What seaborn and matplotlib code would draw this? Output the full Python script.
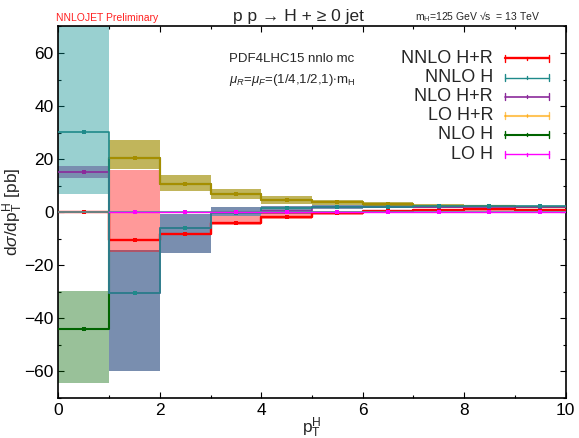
import numpy as np
import pandas as pd
import matplotlib
matplotlib.use("Agg")
import matplotlib.pyplot as plt
import seaborn as sns

# ---- binned pT(H) distributions, dsigma/dpT [pb], bins of 1 GeV ----
bin_edges = [0, 1, 2, 3, 4, 5, 6, 7, 8, 9, 10]
nan = np.nan

nnlo_hr = [0.0, -10.3, -8.3, -4.0, -1.6, -0.2, 0.3, 0.9, 1.1, 0.9]
nnlo_hr_lo = [0.0, -15.0, -8.6, -4.8, -2.6, -0.9, -0.3, 0.4, 0.6, 0.5]
nnlo_hr_hi = [0.0, 16.0, -8.0, -1.3, -0.4, 0.4, 0.8, 1.3, 1.5, 1.3]

nnlo_h = [30.2, -30.4, -5.8, -0.1, 1.6, 2.1, 2.1, 2.2, 2.2, 2.2]
nnlo_h_lo = [7.0, -60.0, -15.2, -1.5, -0.5, 1.2, 1.5, 1.7, 1.8, 1.8]
nnlo_h_hi = [95.0, -14.4, -0.6, 2.1, 2.4, 2.7, 2.6, 2.6, 2.5, 2.5]

nlo_hr = [15.0, -30.6, -6.0, 0.0, 0.3, 1.8, 1.9, 2.0, 2.0, 2.0]
nlo_hr_lo = [13.0, -60.0, -15.2, -1.5, -0.5, 1.2, 1.5, 1.7, 1.8, 1.8]
nlo_hr_hi = [17.3, -14.4, -0.6, 2.1, 2.4, 2.7, 2.6, 2.6, 2.5, 2.5]

lo_hr = [nan, 20.5, 10.6, 6.7, 4.8, 3.7, 3.1, 2.5, 2.3, 2.1]
lo_hr_lo = [nan, 16.3, 8.0, 5.0, 3.2, 2.8, 2.4, 2.1, 1.9, 1.8]
lo_hr_hi = [nan, 27.1, 14.0, 8.6, 6.1, 4.5, 3.7, 3.0, 2.7, 2.5]

nlo_h = [-44.1, 20.5, 10.6, 6.7, 4.8, 3.7, 3.1, 2.5, 2.3, 2.1]
nlo_h_lo = [-64.4, 16.3, 8.0, 5.0, 3.2, 2.8, 2.4, 2.1, 1.9, 1.8]
nlo_h_hi = [-29.6, 27.1, 14.0, 8.6, 6.1, 4.5, 3.7, 3.0, 2.7, 2.5]

lo_h = [nan, 0.0, 0.0, 0.0, 0.0, 0.0, 0.0, 0.0, 0.0, 0.0]

labels = ["NNLO H+R", "NNLO H", "NLO H+R", "LO H+R", "NLO H", "LO H"]

sns.set_theme(style="ticks")
plt.rcParams["font.family"] = ["Liberation Sans", "DejaVu Sans"]
plt.rcParams["mathtext.fontset"] = "custom"
plt.rcParams["mathtext.rm"] = "Liberation Sans"
plt.rcParams["mathtext.it"] = "Liberation Sans:italic"

fig = plt.figure(figsize=(5.79, 4.38), dpi=100)
ax = fig.add_axes([0.101, 0.0913, 0.8757, 0.8482])

edges = np.array(bin_edges, dtype=float)
centers = 0.5 * (edges[:-1] + edges[1:])


def ext(v):
    v = list(v)
    return np.array(v + [v[-1]], dtype=float)


# scale-variation bands
bands = [
    (nnlo_h_lo, nnlo_h_hi, "#008b8b", 0.40),
    (nlo_hr_lo, nlo_hr_hi, "#5b4d8f", 0.50),
    (nlo_h_lo, nlo_h_hi, "#006400", 0.40),
    (lo_hr_lo, lo_hr_hi, "#ffa500", 0.40),
    (nnlo_hr_lo, nnlo_hr_hi, "#ff0000", 0.40),
]
for lo, hi, col, a in bands:
    ax.fill_between(edges, ext(lo), ext(hi), step="post", color=col,
                    alpha=a, linewidth=0, zorder=1)

# central predictions as histograms
series = [
    ("NNLO H+R", nnlo_hr, "#ff0000", 1.7, 1.0),
    ("NNLO H", nnlo_h, "#1f8a8a", 1.2, 1.0),
    ("NLO H+R", nlo_hr, "#8b2a9b", 1.2, 1.0),
    ("NLO H", nlo_h, "#006400", 1.5, 1.0),
    ("LO H+R", lo_hr, "#ffa500", 1.5, 0.65),
    ("LO H", lo_h, "#ff00ff", 1.0, 1.0),
]
order = {"NNLO H+R": 3, "NNLO H": 4, "NLO H+R": 3.5, "NLO H": 3.2,
         "LO H+R": 3.3, "LO H": 6}
for name, vals, col, lw, a in series:
    df = pd.DataFrame({"pt": edges, "val": ext(vals)}).dropna()
    sns.lineplot(data=df, x="pt", y="val", drawstyle="steps-post",
                 color=col, linewidth=lw, alpha=a, estimator=None,
                 sort=False, ax=ax, zorder=order[name])
    pts = pd.DataFrame({"pt": centers, "val": np.array(vals, dtype=float)}).dropna()
    sns.scatterplot(data=pts, x="pt", y="val", marker="s", s=7, color=col,
                    alpha=a, linewidth=0, ax=ax, zorder=order[name] + 0.1)

ax.axhline(0, color="#4e9a9a", lw=1.2, zorder=5)

ax.set_xlim(0, 10)
ax.set_ylim(-70, 70)
ax.set_xticks([0, 2, 4, 6, 8, 10])
ax.set_xticks(np.arange(0, 11, 1), minor=True)
ax.set_yticks([-60, -40, -20, 0, 20, 40, 60])
ax.set_yticks(np.arange(-70, 71, 10), minor=True)
ax.tick_params(which="both", direction="in", top=True, right=True,
               labelsize=12.5, colors="black", width=0.8)
ax.tick_params(which="major", length=4)
ax.tick_params(which="minor", length=2.5)
for s in ax.spines.values():
    s.set_linewidth(1.2)
    s.set_color("black")

ax.set_xlabel(r"$\mathregular{p_T^H}$", fontsize=12.5)
ax.set_ylabel(r"d$\sigma$/dp$\mathregular{_T^H}$ [pb]", fontsize=12.5)
ax.xaxis.set_label_coords(0.5, -0.046)
ax.yaxis.set_label_coords(-0.066, 0.5)

# header texts
fig.text(0.096, 0.960, "NNLOJET Preliminary", color="#ff2020", fontsize=7.5,
         ha="left", va="center")
fig.text(0.515, 0.963, "p p → H + ≥ 0 jet", fontsize=12.5, ha="center",
         va="center")
fig.text(0.717, 0.962, r"m$\mathregular{_H}$=125 GeV √s  = 13 TeV",
         fontsize=7.5, ha="left", va="center")

ax.text(0.337, 0.912, "PDF4LHC15 nnlo mc", transform=ax.transAxes,
        fontsize=9.5, ha="left", va="center")
ax.text(0.337, 0.857, r"$\mu_R$=$\mu_F$=(1/4,1/2,1)$\cdot$m$\mathregular{_H}$",
        transform=ax.transAxes, fontsize=9.5, ha="left", va="center")

# key
key = [
    ("NNLO H+R", "#ff0000", 1.7, 1.0),
    ("NNLO H", "#1f8a8a", 1.0, 1.0),
    ("NLO H+R", "#8b2a9b", 1.2, 1.0),
    ("LO H+R", "#ffa500", 1.5, 0.65),
    ("NLO H", "#006400", 1.5, 1.0),
    ("LO H", "#ff00ff", 1.0, 1.0),
]
ys = [0.9144, 0.8622, 0.8110, 0.7599, 0.7087, 0.6560]
x0, x1 = 0.8807, 0.9675
for (name, col, lw, a), y in zip(key, ys):
    ax.text(0.857, y, name, transform=ax.transAxes, fontsize=13,
            ha="right", va="center")
    ax.plot([x0, x1], [y, y], color=col, lw=lw, alpha=a,
            transform=ax.transAxes, clip_on=False, zorder=7)
    for xc, d in ((x0, 0.009), (x1, 0.009), (0.5 * (x0 + x1), 0.004)):
        ax.plot([xc, xc], [y - d, y + d], color=col, lw=1.0, alpha=a,
                transform=ax.transAxes, clip_on=False, zorder=7)

fig.savefig("out.png", dpi=100)
